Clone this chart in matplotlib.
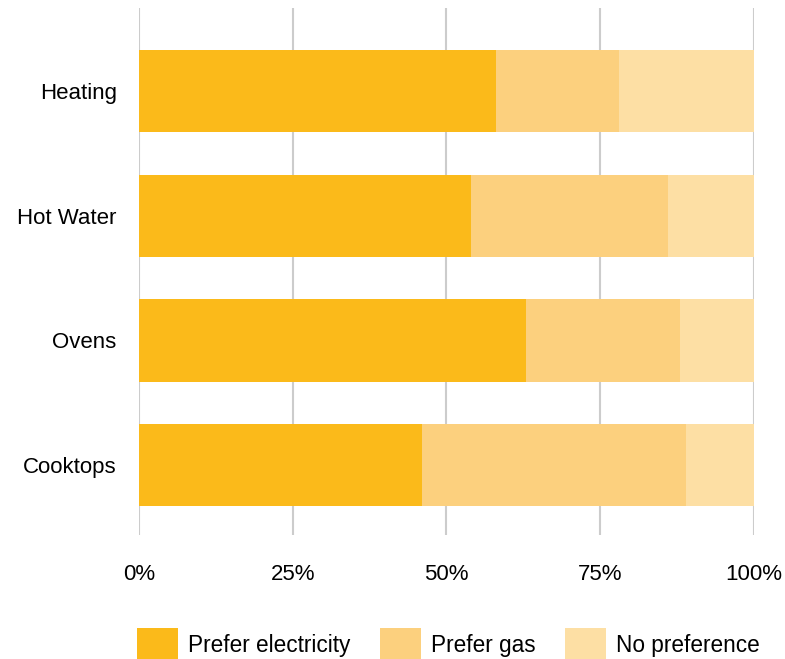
import matplotlib.pyplot as plt
import numpy as np

plt.rcParams["font.family"] = ["Liberation Sans", "DejaVu Sans"]

categories = ["Heating", "Hot Water", "Ovens", "Cooktops"]
prefer_electricity = [58, 54, 63, 46]
prefer_gas = [20, 32, 25, 43]
no_preference = [22, 14, 12, 11]

series = [
    ("Prefer electricity", prefer_electricity, "#FBBA1A"),
    ("Prefer gas", prefer_gas, "#FCD07E"),
    ("No preference", no_preference, "#FDDFA4"),
]

fig = plt.figure(figsize=(7.85, 6.59), dpi=100)
ax = fig.add_axes([0.177, 0.188, 0.7834, 0.800])

y = np.arange(len(categories))
left = np.zeros(len(categories))
for label, vals, color in series:
    vals = np.array(vals, dtype=float)
    ax.barh(y, vals, left=left, height=0.66, color=color, label=label, zorder=2)
    left += vals

ax.set_xlim(0, 100)
ax.set_ylim(3.56, -0.666)
ax.set_xticks([0, 25, 50, 75, 100])
ax.set_xticklabels(["0%", "25%", "50%", "75%", "100%"])
ax.set_yticks(y)
ax.set_yticklabels(categories)
ax.tick_params(axis="both", length=0, labelsize=16, colors="#000000")
ax.tick_params(axis="x", pad=21)
ax.tick_params(axis="y", pad=16)
ax.grid(axis="x", color="#cccccc", lw=1.5, zorder=0)
for s in ax.spines.values():
    s.set_visible(False)

fig.legend(loc="center left", bbox_to_anchor=(0.175, 0.022), ncol=3, frameon=False,
           fontsize=16.3, handlelength=1.8, handleheight=1.8, handletextpad=0.45,
           columnspacing=1.3, borderaxespad=0, borderpad=0)

fig.savefig("out.png", dpi=100)
